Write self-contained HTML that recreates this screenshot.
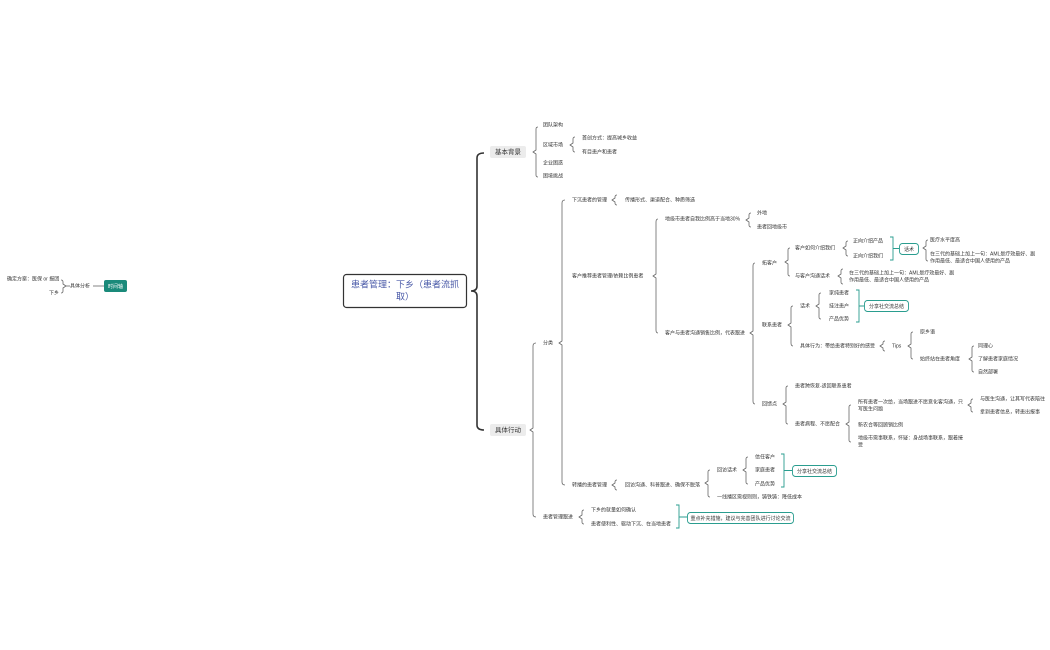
<!DOCTYPE html>
<html><head><meta charset="utf-8"><style>
html,body{margin:0;padding:0;background:#fff;width:1050px;height:650px;overflow:hidden}
svg text{font-family:"Liberation Sans","Noto Sans CJK SC",sans-serif;font-size:5px;fill:#333;dominant-baseline:middle}
</style></head><body>
<svg width="1050" height="650" viewBox="0 0 1050 650" xmlns="http://www.w3.org/2000/svg">
<defs></defs>
<g fill="none" stroke="#555" stroke-width="0.8" id="br">
</g>
<script></script>
<g fill="none">
<!-- main bracket -->
<path d="M484 153 Q477 153 477 158 L477 286 Q477 291 471 291 Q477 291 477 296 L477 425 Q477 430 484 430" stroke="#333" stroke-width="1.6"/>
<!-- sub brackets (gray) -->
<g stroke="#666" stroke-width="0.8">
<path d="M538 127 Q536 127 536 129 L536 150 L533 152 L536 154 L536 175 Q536 177 538 177"/>
<path d="M575 137 Q573 137 573 139 L573 143 L570 145 L573 147 L573 150 Q573 152 575 152"/>
<path d="M536 343 Q533 343 533 346 L533 428 L530 430 L533 432 L533 514 Q533 517 536 517"/>
<path d="M565 200 Q562 200 562 203 L562 341 L559 343 L562 345 L562 482 Q562 485 565 485"/>
<path d="M617 195 Q615 195 615 197 L615 198 L612 200 L615 202 L615 203 Q615 205 617 205"/>
<path d="M658 219 Q656 219 656 222 L656 274 L653 276 L656 278 L656 330 Q656 333 658 333"/>
<path d="M751 213 Q749 213 749 215 L749 218 L746 220 L749 222 L749 225 Q749 227 751 227"/>
<path d="M755 263 Q753 263 753 266 L753 331 L750 333 L753 335 L753 401 Q753 404 755 404"/>
<path d="M790 248 Q788 248 788 250 L788 260 L785 262 L788 264 L788 274 Q788 276 790 276"/>
<path d="M848 241 Q846 241 846 243 L846 246 L843 248 L846 250 L846 254 Q846 256 848 256"/>
<path d="M928 240 Q926 240 926 242 L926 246 L923 248 L926 250 L926 259 Q926 261 928 261"/>
<path d="M843 269 Q841 269 841 271 L841 274 L838 276 L841 278 L841 282 Q841 284 843 284"/>
<path d="M793 306 Q791 306 791 308 L791 323 L788 325 L791 327 L791 343 Q791 346 793 346"/>
<path d="M821 293 Q819 293 819 295 L819 304 L816 306 L819 308 L819 317 Q819 319 821 319"/>
<path d="M885 341 Q883 341 883 343 L883 344 L880 346 L883 348 L883 349 Q883 351 885 351"/>
<path d="M913 332 Q911 332 911 334 L911 344 L908 346 L911 348 L911 357 Q911 359 913 359"/>
<path d="M974 346 Q972 346 972 348 L972 357 L969 359 L972 361 L972 370 Q972 372 974 372"/>
<path d="M788 386 Q786 386 786 388 L786 402 L783 404 L786 406 L786 422 Q786 424 788 424"/>
<path d="M851 405 Q849 405 849 407 L849 422 L846 424 L849 426 L849 440 Q849 442 851 442"/>
<path d="M973 399 Q971 399 971 401 L971 403 L968 405 L971 407 L971 410 Q971 412 973 412"/>
<path d="M617 480 Q615 480 615 482 L615 483 L612 485 L615 487 L615 488 Q615 490 617 490"/>
<path d="M710 470 Q708 470 708 472 L708 481 L705 483 L708 485 L708 495 Q708 497 710 497"/>
<path d="M748 457 Q746 457 746 459 L746 468 L743 470 L746 472 L746 482 Q746 484 748 484"/>
<path d="M584 510 Q582 510 582 512 L582 515 L579 517 L582 519 L582 522 Q582 524 584 524"/>
<path d="M63 280 Q61 280 61 282 L61 284 L58 286 L61 288 L61 291 Q61 293 63 293" transform="translate(0,0) scale(-1,1) translate(-124,0)"/>
<line x1="66" y1="286" x2="70" y2="286"/>
<line x1="93" y1="286" x2="104" y2="286"/>
</g>
<!-- teal brackets -->
<g stroke="#2a9d8f" stroke-width="0.9">
<path d="M890 237 L893 237 L893 260 L890 260 M893 248.5 L899 248.5"/>
<path d="M856 290 L859 290 L859 322 L856 322 M859 306 L864 306"/>
<path d="M781 454 L784 454 L784 487 L781 487 M784 470.5 L792 470.5"/>
<path d="M676 505 L679 505 L679 528 L676 528 M679 517 L687 517"/>
</g>
<!-- boxes -->
<rect x="343.5" y="274.5" width="123" height="33" rx="3" fill="#fff" stroke="#333" stroke-width="1.2"/>
<rect x="490" y="146" width="36" height="12" rx="2" fill="#ececec"/>
<rect x="490" y="424" width="36" height="12" rx="2" fill="#ececec"/>
<rect x="899.5" y="243.5" width="19" height="11" rx="3" fill="#fff" stroke="#2a9d8f" stroke-width="0.9"/>
<rect x="864.5" y="300.5" width="44" height="11" rx="3" fill="#fff" stroke="#2a9d8f" stroke-width="0.9"/>
<rect x="792.5" y="465.5" width="44" height="11" rx="3" fill="#fff" stroke="#2a9d8f" stroke-width="0.9"/>
<rect x="687.5" y="512.5" width="106" height="11" rx="3" fill="#fff" stroke="#2a9d8f" stroke-width="0.9"/>
<rect x="104" y="280" width="23" height="12" rx="2" fill="#1a8a7a"/>
</g>
<text x="405" y="285" text-anchor="middle" style="font-size:9px;fill:#4a5aa8">患者管理：下乡（患者流抓</text>
<text x="405" y="297" text-anchor="middle" style="font-size:9px;fill:#4a5aa8">取）</text>
<text x="508" y="152.5" text-anchor="middle" style="font-size:6.5px">基本背景</text>
<text x="508" y="430.5" text-anchor="middle" style="font-size:6.5px">具体行动</text>
<text x="115.5" y="286.5" text-anchor="middle" style="font-size:5px;fill:#fff">时间轴</text>
<text x="909" y="249.5" text-anchor="middle">话术</text>
<text x="886.5" y="306.5" text-anchor="middle">分享社交流总结</text>
<text x="814.5" y="471.5" text-anchor="middle">分享社交流总结</text>
<text x="740.5" y="518.5" text-anchor="middle">重点补充措施，建议与完善团队进行讨论交流</text>
<text x="7" y="279">确定方案：医保 or 报团</text>
<text x="49" y="293">下乡</text>
<text x="70" y="286">具体分析</text>
<text x="543" y="125">团队架构</text>
<text x="543" y="145">区域市场</text>
<text x="543" y="163">企业困惑</text>
<text x="543" y="176">困境挑战</text>
<text x="582" y="138">首创方式：提高城乡收益</text>
<text x="582" y="152">有目患户和患者</text>
<text x="543" y="343">分类</text>
<text x="543" y="517">患者管理跟进</text>
<text x="572" y="200">下沉患者的管理</text>
<text x="572" y="276">客户推荐患者管理/依赖比例患者</text>
<text x="572" y="485">转播的患者管理</text>
<text x="625" y="200">传播形式、渠道配合、种质筛选</text>
<text x="665" y="219">地级市患者自我比例高于当地30%</text>
<text x="665" y="333">客户与患者沟通销售比例，代表跟进</text>
<text x="757" y="213">外地</text>
<text x="757" y="227">患者回地级市</text>
<text x="762" y="263">拓客户</text>
<text x="762" y="325">联系患者</text>
<text x="762" y="404">回馈点</text>
<text x="795" y="248">客户如何介绍我们</text>
<text x="795" y="276">与客户沟通话术</text>
<text x="853" y="241">正向介绍产品</text>
<text x="853" y="256">正向介绍我们</text>
<text x="930" y="240">医疗水平度高</text>
<text x="930" y="254">在三代的基础上加上一句：AML是疗效最好、副</text>
<text x="930" y="261">作用最低、最适合中国人使用的产品</text>
<text x="849" y="273">在三代的基础上加上一句：AML是疗效最好、副</text>
<text x="849" y="280">作用最低、最适合中国人使用的产品</text>
<text x="800" y="306">话术</text>
<text x="800" y="346">具体行为：带给患者特别好的感受</text>
<text x="829" y="293">家纯患者</text>
<text x="829" y="306">挂注患户</text>
<text x="829" y="319">产品优势</text>
<text x="892" y="346">Tips</text>
<text x="920" y="332">原乡语</text>
<text x="920" y="359">始终站在患者角度</text>
<text x="978" y="346">同理心</text>
<text x="978" y="359">了解患者家庭情况</text>
<text x="978" y="372">自然部署</text>
<text x="795" y="386">患者跨恢复-适回联系患者</text>
<text x="795" y="424">患者病程、不愿配合</text>
<text x="858" y="402">所有患者一次给，当场跟进不愿意化客沟通，只</text>
<text x="858" y="409">写医生问题</text>
<text x="858" y="425">新农合等回顾销比例</text>
<text x="858" y="438">地级市需事联系，怀疑：身战场事联系，跟着接</text>
<text x="858" y="445">受</text>
<text x="980" y="399">与医生沟通，让其写代表陪往</text>
<text x="980" y="412">拿到患者信息，转患出报事</text>
<text x="625" y="485">回访沟通、科普跟进、确保不脱落</text>
<text x="717" y="470">回访话术</text>
<text x="717" y="497">一线播区需视则则，铸铁铸：降低成本</text>
<text x="755" y="457">信任客户</text>
<text x="755" y="470">家庭患者</text>
<text x="755" y="484">产品优势</text>
<text x="591" y="510">下乡的就量如何确认</text>
<text x="591" y="524">患者便利性、驱动下沉、在当地患者</text>
</svg>
</body></html>
